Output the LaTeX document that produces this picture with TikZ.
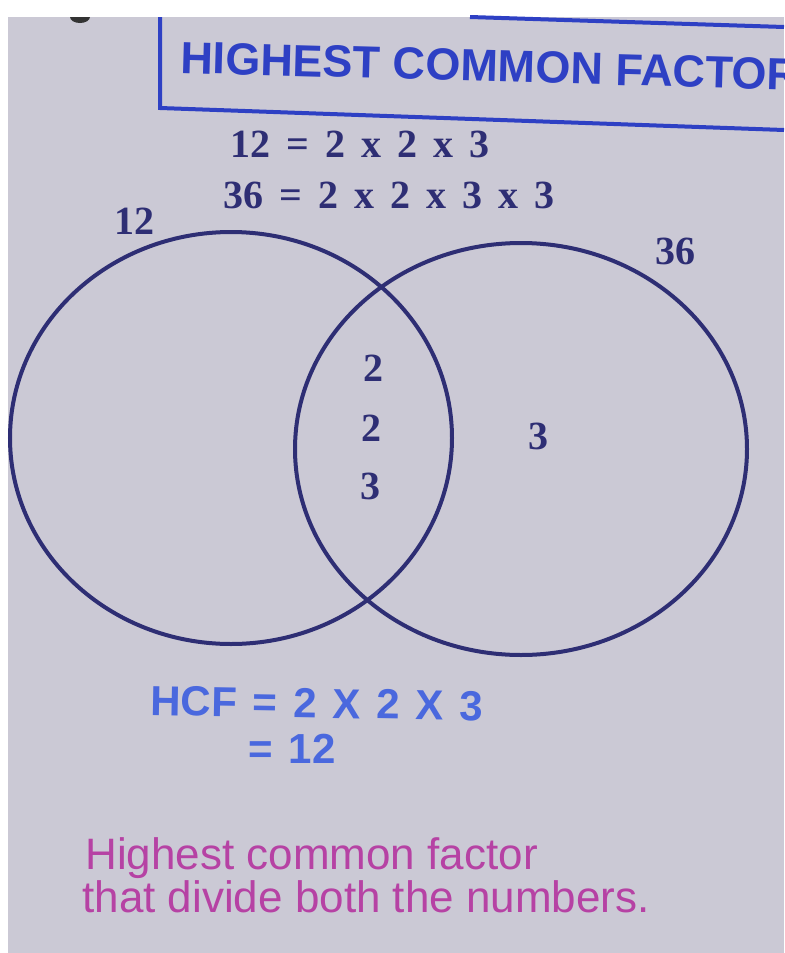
\documentclass[tikz,border=0pt]{standalone}
\usepackage{fontspec}
\setmainfont{Liberation Serif}
\setsansfont{Liberation Sans}
\usepackage{tikz}
\usetikzlibrary{positioning}
\definecolor{hcfPaper}{RGB}{203,201,213}
\definecolor{hcfBlue}{RGB}{46,64,196}
\definecolor{hcfLightBlue}{RGB}{74,104,222}
\definecolor{hcfNavy}{RGB}{46,46,116}
\definecolor{hcfMagenta}{RGB}{182,66,164}
\newcommand{\widesp}{\spaceskip=8pt\relax}

\begin{document}
\begin{tikzpicture}[x=0.5pt,y=-0.5pt,
    factor/.style={text=hcfNavy, inner sep=0pt, font=\bfseries\fontsize{20}{22}\selectfont},
    venn/.style={draw=hcfNavy, line width=2pt}]

    \useasboundingbox (0,0) rectangle (784,953);

    % photo page
    \fill[white] (0,0) rectangle (784,953);
    \fill[hcfPaper] (8,17) rectangle (784,953);
    \begin{scope}
        \clip (8,17) rectangle (784,953);
        \fill[black!80] (80,17) ellipse [x radius=5pt, y radius=3pt];
    \end{scope}

    % title box
    \draw[hcfBlue, line width=2pt] (160,17) -- (160,108) -- (784,130);
    \draw[hcfBlue, line width=2pt] (470,17) -- (784,27);
    \node[anchor=base west, inner sep=0pt, rotate=-1.6, text=hcfBlue,
          font=\sffamily\bfseries\fontsize{22.5}{24}\selectfont]
        (title) at (180,73) {HIGHEST COMMON FACTOR};

    % prime factors
    \node[factor, anchor=base west] (fact12) at (230,157) {\widesp 12 = 2 x 2 x 3};
    \node[factor, anchor=base west] (fact36) at (223,208) {\widesp 36 = 2 x 2 x 3 x 3};

    % the two sets
    \draw[venn] (231,438) ellipse [x radius=110.5pt, y radius=103pt];
    \draw[venn] (521,449) ellipse [x radius=113pt, y radius=103pt];
    \node[factor] (set12) at (134,221) {12};
    \node[factor] (set36) at (675,251) {36};

    % common factors
    \node[factor] (common1) at (373,368) {2};
    \node[factor] (common2) at (371,428) {2};
    \node[factor] (common3) at (370,486) {3};
    \node[factor] (only36) at (538,436) {3};

    % result
    \node[anchor=base west, inner sep=0pt, rotate=-1, text=hcfLightBlue,
          font=\sffamily\bfseries\fontsize{21}{23}\selectfont]
        (hcf) at (150,715) {\widesp HCF = 2 X 2 X 3};
    \node[anchor=base west, inner sep=0pt, text=hcfLightBlue,
          font=\sffamily\bfseries\fontsize{21}{23}\selectfont]
        (hcfval) at (248,763) {\widesp = 12};

    % note
    \node[anchor=base west, inner sep=0pt, text=hcfMagenta,
          font=\sffamily\fontsize{22}{22}\selectfont]
        (note1) at (85,869) {Highest common factor};
    \node[anchor=base west, inner sep=0pt, text=hcfMagenta,
          font=\sffamily\fontsize{22}{22}\selectfont]
        (note2) at (82,912) {that divide both the numbers.};

\end{tikzpicture}
\end{document}
